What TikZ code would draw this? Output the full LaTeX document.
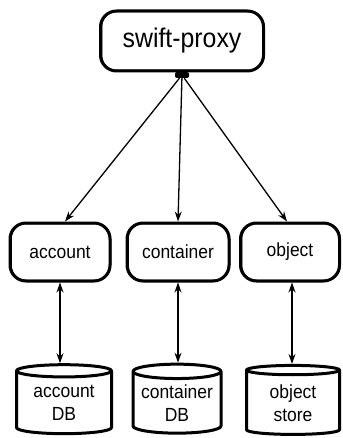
\documentclass[tikz,border=0pt]{standalone}
\usepackage{fontspec}
\setmainfont{Liberation Sans}[FakeStretch=0.92]
\usetikzlibrary{shapes.geometric,arrows.meta}
\begin{document}
\begin{tikzpicture}[x=1pt,y=-1pt,
  ink/.style={line width=3pt,line join=round,line cap=round},
  box/.style={ink,draw,rounded corners=16pt,inner sep=0pt},
  drum/.style={ink,draw,cylinder,shape border rotate=90,aspect=0.2,inner sep=0pt,
    align=center,font=\fontsize{19}{23}\selectfont},
  wire/.style={line width=1.3pt,-{Stealth[length=10pt,width=7pt]}},
  biwire/.style={line width=1.3pt,{Stealth[length=10pt,width=7pt]}-{Stealth[length=10pt,width=7pt]}},
  label/.style={font=\fontsize{19}{23}\selectfont}]
\useasboundingbox (0,0) rectangle (342,438);

% proxy and services
\node[box,minimum width=163pt,minimum height=60pt,font=\fontsize{27}{30}\selectfont]
  (proxy) at (182,41) {swift-proxy};
\node[box,minimum width=100pt,minimum height=58pt,label] (acc) at (60,252) {account};
\node[box,minimum width=102pt,minimum height=58pt,label] (con) at (178,252) {container};
\node[box,minimum width=99pt,minimum height=58pt,label] (obj) at (290,252) {object};

% second strokes for the sketched outline
\foreach \n in {proxy,acc,con,obj}{
  \draw[line width=1.6pt,rounded corners=15pt]
    ([xshift=2.5pt,yshift=-2pt]\n.north west) rectangle ([xshift=-1pt,yshift=2pt]\n.south east);
}

% storage drums
\node[drum,minimum width=95pt,minimum height=69pt] (accdb) at (64,403) {account\\DB};
\node[drum,minimum width=88pt,minimum height=69pt] (condb) at (177,403) {container\\DB};
\node[drum,minimum width=93pt,minimum height=69pt] (objdb) at (293,403) {object\\store};

% fan-out hub under the proxy
\node[fill,rectangle,rounded corners=2pt,minimum width=14pt,minimum height=6pt,inner sep=0pt]
  (hub) at (182,75) {};

\draw[wire] (hub) -- ([xshift=5pt]acc.north);
\draw[wire] (hub) -- (con.north);
\draw[wire] (hub) -- ([xshift=-3pt]obj.north);

\draw[biwire] (acc.south) -- (acc.south |- accdb.north);
\draw[biwire] (con.south) -- (con.south |- condb.north);
\draw[biwire] ([xshift=2pt]obj.south) -- ([xshift=2pt]obj.south |- objdb.north);
\end{tikzpicture}
\end{document}
